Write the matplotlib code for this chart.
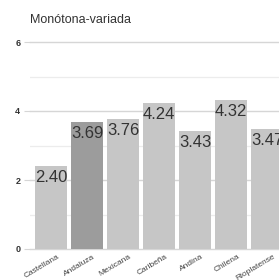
import matplotlib
matplotlib.use("Agg")
import matplotlib.pyplot as plt
import matplotlib.transforms as mtransforms

plt.rcParams['font.family'] = ['Liberation Sans', 'DejaVu Sans']

categories = ["Castellana", "Andaluza", "Mexicana", "Caribeña", "Andina", "Chilena", "Rioplatense"]
values = [2.40, 3.69, 3.76, 4.24, 3.43, 4.32, 3.47]
colors = ["#c6c6c6", "#9c9c9c", "#c6c6c6", "#c6c6c6", "#c6c6c6", "#c6c6c6", "#c6c6c6"]

fig = plt.figure(figsize=(2.79, 2.80), dpi=100)
ax = fig.add_axes([30 / 279, 31 / 280, 249 / 279, 207 / 280])

# grid: major at even values, lighter ones in between
for y in [1, 3, 5]:
    ax.axhline(y, color="#ececec", lw=0.9, zorder=0)
for y in [0, 2, 4, 6]:
    ax.axhline(y, color="#d6d6d6", lw=1.0, zorder=0, clip_on=False)

x = list(range(len(categories)))
bars = ax.bar(x, values, width=0.89, color=colors, zorder=2)

for xi, v in zip(x, values):
    ax.annotate(f"{v:.2f}", (xi, v), xytext=(0, -3), textcoords="offset points",
                ha="center", va="top", fontsize=12, color="#333333", zorder=3,
                annotation_clip=False, clip_on=True)

ax.set_xlim(-0.583, 6.33)
ax.set_ylim(0, 6)
ax.set_yticks([0, 2, 4, 6])
ax.set_xticks(x)
ax.set_xticklabels(categories, rotation=31, ha="right", rotation_mode="anchor", fontsize=6, color="#444444")
ax.tick_params(axis="y", length=4, color="#d6d6d6", labelsize=6.5, labelcolor="#333333", pad=3)
ax.tick_params(axis="x", length=0, pad=3)
shift = mtransforms.ScaledTranslation(6 / 100, 0, fig.dpi_scale_trans)
for lbl in ax.get_xticklabels():
    lbl.set_transform(lbl.get_transform() + shift)
for lbl in ax.get_yticklabels():
    lbl.set_fontweight("bold")
for s in ax.spines.values():
    s.set_visible(False)

fig.text(30 / 279, 1 - 20 / 280, "Monótona-variada", fontsize=9, color="#333333", va="center", ha="left")

fig.savefig("out.png", dpi=100)
